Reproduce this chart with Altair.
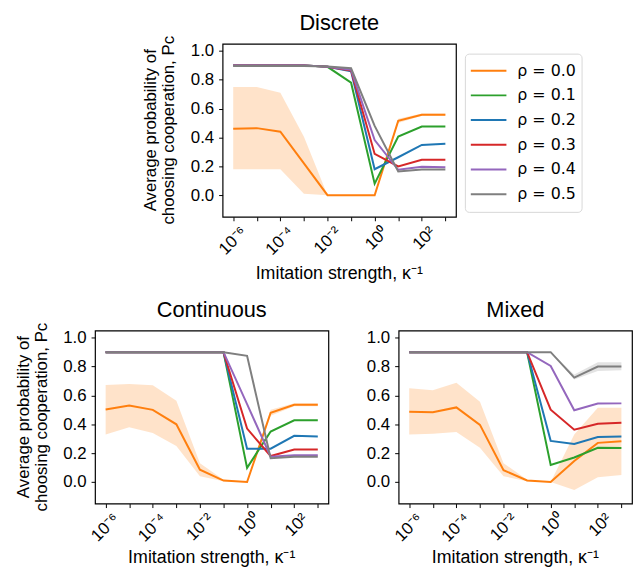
import altair as alt
import pandas as pd

exps = [-6, -5, -4, -3, -2, -1, 0, 1, 2, 3]
kappa = [10.0 ** e for e in exps]
series_labels = ["ρ = 0.0", "ρ = 0.1", "ρ = 0.2", "ρ = 0.3", "ρ = 0.4", "ρ = 0.5"]
series_colors = ["#ff7f0e", "#2ca02c", "#1f77b4", "#d62728", "#9467bd", "#7f7f7f"]

# Discrete
d_r0 = [0.46, 0.465, 0.44, 0.22, 0.0, 0.0, 0.0, 0.515, 0.558, 0.558]
d_r0_lo = [0.18, 0.18, 0.18, 0.01, 0.0, 0.0, 0.0, 0.50, 0.55, 0.55]
d_r0_hi = [0.75, 0.75, 0.71, 0.405, 0.0, 0.0, 0.0, 0.53, 0.567, 0.567]
d_r1 = [0.9, 0.9, 0.9, 0.9, 0.89, 0.78, 0.08, 0.407, 0.476, 0.476]
d_r2 = [0.9, 0.9, 0.9, 0.9, 0.89, 0.86, 0.18, 0.263, 0.348, 0.357]
d_r3 = [0.9, 0.9, 0.9, 0.9, 0.89, 0.865, 0.286, 0.20, 0.245, 0.245]
d_r4 = [0.9, 0.9, 0.9, 0.9, 0.89, 0.87, 0.382, 0.176, 0.197, 0.193]
d_r5 = [0.895, 0.895, 0.895, 0.895, 0.893, 0.88, 0.48, 0.165, 0.178, 0.178]

# Continuous
c_r0 = [0.503, 0.53, 0.50, 0.40, 0.085, 0.01, 0.0, 0.48, 0.535, 0.535]
c_r0_lo = [0.33, 0.38, 0.34, 0.25, 0.04, 0.005, 0.0, 0.46, 0.525, 0.525]
c_r0_hi = [0.672, 0.68, 0.67, 0.563, 0.13, 0.015, 0.0, 0.50, 0.545, 0.545]
c_r1 = [0.9, 0.9, 0.9, 0.9, 0.9, 0.9, 0.098, 0.35, 0.428, 0.428]
c_r2 = [0.9, 0.9, 0.9, 0.9, 0.9, 0.9, 0.231, 0.231, 0.32, 0.315]
c_r3 = [0.9, 0.9, 0.9, 0.9, 0.9, 0.9, 0.37, 0.18, 0.225, 0.225]
c_r4 = [0.9, 0.9, 0.9, 0.9, 0.9, 0.9, 0.54, 0.175, 0.185, 0.185]
c_r5 = [0.9, 0.9, 0.9, 0.9, 0.9, 0.9, 0.875, 0.165, 0.175, 0.175]

# Mixed
m_r0 = [0.487, 0.484, 0.517, 0.396, 0.082, 0.01, 0.0, 0.145, 0.271, 0.282]
m_r0_lo = [0.33, 0.335, 0.346, 0.237, 0.04, 0.005, 0.0, -0.055, 0.032, 0.048]
m_r0_hi = [0.65, 0.636, 0.688, 0.556, 0.13, 0.015, 0.0, 0.33, 0.515, 0.515]
m_r1 = [0.9, 0.9, 0.9, 0.9, 0.9, 0.9, 0.118, 0.17, 0.237, 0.235]
m_r2 = [0.9, 0.9, 0.9, 0.9, 0.9, 0.9, 0.285, 0.264, 0.312, 0.315]
m_r3 = [0.9, 0.9, 0.9, 0.9, 0.9, 0.9, 0.501, 0.362, 0.403, 0.41]
m_r4 = [0.9, 0.9, 0.9, 0.9, 0.9, 0.9, 0.804, 0.497, 0.544, 0.545]
m_r5 = [0.9, 0.9, 0.9, 0.9, 0.9, 0.9, 0.9, 0.724, 0.8, 0.8]
m_r5_lo = [0.9, 0.9, 0.9, 0.9, 0.9, 0.9, 0.9, 0.71, 0.77, 0.775]
m_r5_hi = [0.9, 0.9, 0.9, 0.9, 0.9, 0.9, 0.9, 0.745, 0.83, 0.83]

y_ticks = [0.0, 0.2, 0.4, 0.6, 0.8, 1.0]

x_title = "Imitation strength, κ⁻¹"
y_title_lines = ["Average probability of", "choosing cooperation, Pc"]

FONT = "Liberation Sans"
W, H = 236, 175

EXP = "round(log(datum.value)/LN10)"
label_expr = (
    f"{EXP} == -6 ? '10⁻⁶' : "
    f"{EXP} == -4 ? '10⁻⁴' : "
    f"{EXP} == -2 ? '10⁻²' : "
    f"{EXP} == 0 ? '10⁰' : "
    f"{EXP} == 2 ? '10²' : ''"
)
# labels only on even decades; odd decades keep their tick but no label box
label_size = {"condition": {"test": f"{EXP} % 2 == 0", "value": 17}, "value": 0}


def text_layer(txt, x, y, size, angle=0, baseline="alphabetic"):
    return alt.Chart(pd.DataFrame({"t": [txt]})).mark_text(
        font=FONT, fontSize=size, color="black", angle=angle,
        align="center", baseline=baseline,
    ).encode(text="t:N", x=alt.value(x), y=alt.value(y))


def panel(title, series, bands, show_legend, show_ytitle, xtitle_y):
    rows = []
    for lab, vals in zip(series_labels, series):
        for k, v in zip(kappa, vals):
            rows.append({"k": k, "p": v, "s": lab})
    df = pd.DataFrame(rows)

    xscale = alt.Scale(type="log", domain=[10 ** -6.45, 10 ** 3.45], nice=False)
    yscale = alt.Scale(domain=[-0.15, 1.05], nice=False, zero=False)
    xaxis = alt.Axis(
        values=kappa, labelExpr=label_expr, labelAngle=-45, labelAlign="right",
        labelBaseline="top", labelFontSize=label_size, labelFont=FONT, tickSize=4,
        tickColor="black", labelColor="black", grid=False, domain=False,
        title=None, labelPadding=3, labelOffset=5, labelOverlap=False,
    )
    yaxis = alt.Axis(
        values=y_ticks, format=".1f", labelFontSize=17, labelFont=FONT,
        tickSize=4, tickColor="black", labelColor="black", grid=False,
        domain=False, title=None, labelPadding=5,
    )
    cscale = alt.Scale(domain=series_labels, range=series_colors)
    if show_legend:
        legend = alt.Legend(
            title=None, orient="none", legendX=W + 9, legendY=10,
            labelFont="DejaVu Sans", labelFontSize=16, labelColor="black",
            symbolType="stroke", symbolSize=1296, symbolStrokeWidth=2,
            clipHeight=24.4, rowPadding=0, strokeColor="#d8d8d8", cornerRadius=4,
            padding=5, fillColor="white", labelOffset=10,
        )
        color = alt.Color("s:N", scale=cscale, legend=legend)
    else:
        color = alt.Color("s:N", scale=cscale, legend=None)

    layers = []
    for idx, (lo, hi) in bands.items():
        bdf = pd.DataFrame({"k": kappa, "lo": lo, "hi": hi})
        layers.append(
            alt.Chart(bdf).mark_area(opacity=0.22, color=series_colors[idx]).encode(
                x=alt.X("k:Q", scale=xscale, axis=xaxis),
                y=alt.Y("lo:Q", scale=yscale, axis=yaxis),
                y2="hi:Q",
            )
        )
    lines = alt.Chart(df).mark_line(strokeWidth=2).encode(
        x=alt.X("k:Q", scale=xscale, axis=xaxis),
        y=alt.Y("p:Q", scale=yscale, axis=yaxis),
        color=color,
        order=alt.Order("k:Q"),
    )
    layers.append(lines)
    layers.append(text_layer(title, W / 2, -14, 22))
    layers.append(text_layer(x_title, W / 2, xtitle_y, 18))
    if show_ytitle:
        layers.append(text_layer(y_title_lines[0], -72, H / 2, 17, angle=270, baseline="middle"))
        layers.append(text_layer(y_title_lines[1], -54, H / 2, 17, angle=270, baseline="middle"))
    return alt.layer(*layers).properties(width=W, height=H)


discrete = panel("Discrete", [d_r0, d_r1, d_r2, d_r3, d_r4, d_r5],
                 {0: (d_r0_lo, d_r0_hi)}, True, True, H + 63)
continuous = panel("Continuous", [c_r0, c_r1, c_r2, c_r3, c_r4, c_r5],
                   {0: (c_r0_lo, c_r0_hi)}, False, True, H + 60)
mixed = panel("Mixed", [m_r0, m_r1, m_r2, m_r3, m_r4, m_r5],
              {0: (m_r0_lo, m_r0_hi), 5: (m_r5_lo, m_r5_hi)}, False, False, H + 60)

# empty cell that pushes the top panel to the right (rows share the same origin)
spacer = alt.Chart(pd.DataFrame({"a": [0]})).mark_point(opacity=0).encode(
    x=alt.value(0), y=alt.value(0)
).properties(width=26, height=10, view=alt.ViewBackground(stroke="transparent"))

top = alt.hconcat(spacer, discrete, spacing=20).resolve_scale(color="independent")
bottom = alt.hconcat(continuous, mixed, spacing=36).resolve_scale(color="independent")

chart = alt.vconcat(top, bottom, spacing=14).resolve_scale(
    color="independent"
).properties(
    padding={"left": 6, "top": 0, "right": 0, "bottom": 0}
).configure_view(stroke="black", strokeWidth=1.2)

chart.save("out.html", embed_options={"renderer": "svg", "actions": False})
